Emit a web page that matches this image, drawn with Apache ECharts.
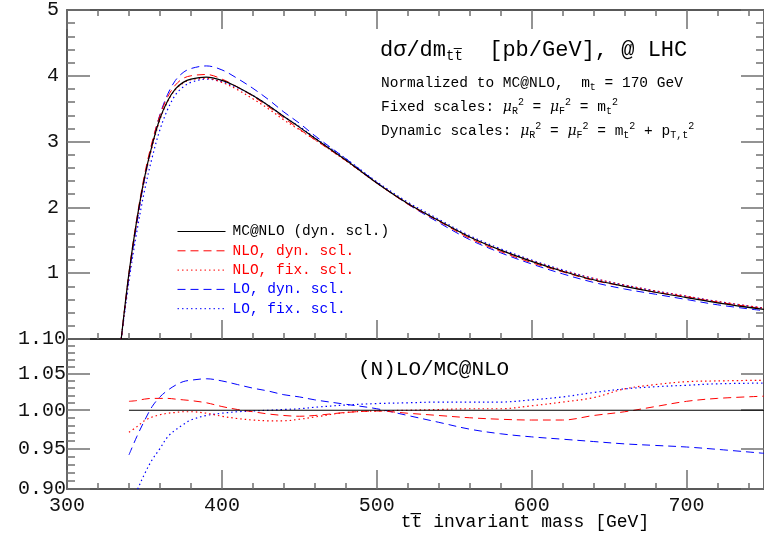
<!DOCTYPE html>
<html><head><meta charset="utf-8">
<script src="https://cdn.jsdelivr.net/npm/echarts@6/dist/echarts.min.js"></script>
<style>html,body{margin:0;padding:0;background:#fff}#c{width:764px;height:540px}</style>
</head><body><div id="c"></div>
<script>
// ---- data ----
const massTop = [335,340,345,350,355,360,365,370,375,380,390,400,410,420,430,440,450,460,480,500,520,540,560,580,600,620,640,660,680,700,720,750];
const mcnlo  = [0,1.00,1.80,2.45,2.95,3.35,3.62,3.80,3.90,3.95,3.98,3.93,3.83,3.70,3.55,3.38,3.22,3.05,2.72,2.37,2.06,1.80,1.55,1.35,1.18,1.03,0.90,0.80,0.71,0.63,0.55,0.45];
const nloDyn = [0,1.01,1.82,2.49,3.00,3.40,3.68,3.86,3.96,4.00,4.02,3.95,3.83,3.69,3.53,3.36,3.19,3.03,2.71,2.37,2.05,1.79,1.53,1.33,1.16,1.02,0.89,0.80,0.71,0.64,0.56,0.46];
const nloFix = [0,0.97,1.76,2.42,2.92,3.33,3.61,3.79,3.89,3.94,3.96,3.90,3.79,3.65,3.50,3.33,3.18,3.03,2.71,2.37,2.06,1.80,1.55,1.35,1.19,1.04,0.92,0.82,0.73,0.65,0.57,0.47];
const loDyn  = [0,0.94,1.74,2.42,2.97,3.41,3.72,3.93,4.05,4.11,4.15,4.09,3.96,3.81,3.64,3.45,3.28,3.09,2.74,2.38,2.05,1.77,1.51,1.31,1.14,0.99,0.86,0.76,0.68,0.60,0.52,0.43];
const loFix  = [0,0.88,1.62,2.25,2.76,3.18,3.49,3.71,3.83,3.90,3.95,3.91,3.82,3.70,3.55,3.38,3.23,3.06,2.74,2.39,2.08,1.82,1.57,1.37,1.20,1.05,0.92,0.82,0.73,0.65,0.57,0.47];

const massRatio = [340,345,350,355,360,365,370,375,380,390,400,410,420,430,440,450,460,480,500,520,540,560,580,600,620,640,660,680,700,720,750];
const loDynR  = [0.942,0.965,0.986,1.005,1.018,1.027,1.034,1.039,1.041,1.043,1.040,1.035,1.030,1.026,1.021,1.018,1.014,1.008,1.002,0.993,0.984,0.975,0.969,0.965,0.962,0.959,0.956,0.954,0.952,0.949,0.944];
const loFixR  = [0.875,0.897,0.918,0.936,0.950,0.965,0.974,0.981,0.987,0.993,0.996,0.998,0.999,1.000,1.001,1.002,1.004,1.007,1.009,1.010,1.011,1.011,1.011,1.014,1.018,1.024,1.029,1.032,1.034,1.036,1.037];
const nloDynR = [1.012,1.013,1.015,1.016,1.016,1.016,1.015,1.014,1.013,1.010,1.005,1.001,0.998,0.995,0.993,0.992,0.993,0.997,0.999,0.996,0.993,0.990,0.988,0.987,0.987,0.993,0.998,1.005,1.012,1.016,1.019];
const nloFixR = [0.971,0.978,0.986,0.991,0.994,0.996,0.997,0.998,0.998,0.996,0.992,0.989,0.987,0.986,0.986,0.988,0.991,0.997,0.999,1.000,1.001,1.002,1.002,1.006,1.011,1.017,1.029,1.035,1.039,1.040,1.041];
const massMc = [340,750];
const mcR    = [1,1];

const ratioMajor = [0.90,0.95,1.00,1.05,1.10];
const ratioMinor = [0.91,0.92,0.93,0.94,0.96,0.97,0.98,0.99,1.01,1.02,1.03,1.04,1.06,1.07,1.08,1.09];
const legendNames = ['MC@NLO (dyn. scl.)','NLO, dyn. scl.','NLO, fix. scl.','LO, dyn. scl.','LO, fix. scl.'];

// ---- styling ----
const MONO = "'Liberation Mono', 'Courier New', monospace";
const RED = '#ff0000', BLUE = '#0000ff', BLACK = '#000000';
const DASH = [8,5], DOT = [1.5,3];
const styles = [
  {color: BLACK, type: 'solid', width: 1.2},
  {color: RED, type: DASH, width: 1},
  {color: RED, type: DOT, width: 1.2},
  {color: BLUE, type: DASH, width: 1},
  {color: BLUE, type: DOT, width: 1.2}
];
const zip = (xs, ys) => xs.map((x,i)=>[x, ys[i]]);

const axisLine = {show: true, onZero: false, lineStyle: {color: '#222', width: 1.5}};
const tickStyle = {color: '#707070', width: 1.5};

function xAx(grid, pos, opts) {
  return Object.assign({
    type: 'value', gridIndex: grid, position: pos, min: 300, max: 750, interval: 100,
    axisLine: axisLine,
    axisTick: {show: true, inside: true, length: 19, lineStyle: tickStyle},
    minorTick: {show: true, splitNumber: 5, length: 6, lineStyle: tickStyle},
    axisLabel: {show: false},
    splitLine: {show: false}
  }, opts || {});
}

const option = {
  animation: false,
  backgroundColor: '#ffffff',
  grid: [
    {left: 67, top: 9, width: 709, height: 330},
    {left: 67, top: 339, width: 709, height: 150}
  ],
  xAxis: [
    xAx(0, 'bottom'),
    xAx(0, 'top'),
    xAx(1, 'bottom', {axisLabel: {show: true, margin: 7, fontFamily: MONO, fontSize: 20, color: '#111', showMaxLabel: false}}),
    xAx(1, 'top', {axisTick: {show: false}, minorTick: {show: false}})
  ],
  yAxis: [
    {type: 'value', gridIndex: 0, position: 'left', min: 0, max: 5, interval: 1,
     axisLine: axisLine,
     axisTick: {show: true, inside: true, length: 23, lineStyle: tickStyle},
     minorTick: {show: true, splitNumber: 5, length: 8, lineStyle: tickStyle},
     axisLabel: {show: true, showMinLabel: false, margin: 8, fontFamily: MONO, fontSize: 20, color: '#111'},
     splitLine: {show: false}},
    {type: 'value', gridIndex: 0, position: 'right', min: 0, max: 5, interval: 1,
     axisLine: axisLine,
     axisTick: {show: true, inside: true, length: 23, lineStyle: tickStyle},
     minorTick: {show: true, splitNumber: 5, length: 8, lineStyle: tickStyle},
     axisLabel: {show: false}, splitLine: {show: false}},
    {type: 'log', gridIndex: 1, position: 'left', min: 0.9, max: 1.1,
     axisLine: axisLine,
     axisTick: {show: true, inside: true, length: 23, lineStyle: tickStyle, customValues: ratioMajor},
     axisLabel: {show: true, margin: 1, fontFamily: MONO, fontSize: 20, color: '#111', customValues: ratioMajor,
                 formatter: v => Number(v).toFixed(2)},
     splitLine: {show: false}},
    {type: 'log', gridIndex: 1, position: 'left', min: 0.9, max: 1.1,
     axisLine: {show: false},
     axisTick: {show: true, inside: true, length: 8, lineStyle: tickStyle, customValues: ratioMinor},
     axisLabel: {show: false}, splitLine: {show: false}},
    {type: 'log', gridIndex: 1, position: 'right', min: 0.9, max: 1.1,
     axisLine: axisLine,
     axisTick: {show: true, inside: true, length: 23, lineStyle: tickStyle, customValues: ratioMajor},
     axisLabel: {show: false}, splitLine: {show: false}}
  ],
  legend: {
    orient: 'vertical', left: 172, top: 219,
    itemWidth: 48, itemHeight: 14, itemGap: 4.3,
    itemStyle: {opacity: 0, borderWidth: 0},
    lineStyle: {width: 1},
    textStyle: {fontFamily: MONO, fontSize: 14.5, padding: [0,0,0,2]},
    data: legendNames.map((n,i)=>({name: n, textStyle: {color: styles[i].color}}))
  },
  series: [],
  graphic: []
};

const topData = [mcnlo, nloDyn, nloFix, loDyn, loFix];
topData.forEach((d,i)=>{
  option.series.push({
    name: legendNames[i], type: 'line', xAxisIndex: 0, yAxisIndex: 0,
    data: zip(massTop, d), showSymbol: false, symbol: 'none',
    smooth: 0.35,
    lineStyle: styles[i], itemStyle: {color: styles[i].color}, z: 10 - i
  });
});
const ratioData = [[massMc, mcR],[massRatio, nloDynR],[massRatio, nloFixR],[massRatio, loDynR],[massRatio, loFixR]];
ratioData.forEach((d,i)=>{
  option.series.push({
    name: 'ratio ' + i, type: 'line', xAxisIndex: 2, yAxisIndex: 2,
    data: zip(d[0], d[1]), showSymbol: false, symbol: 'none',
    smooth: 0.35,
    lineStyle: styles[i], itemStyle: {color: styles[i].color}, z: 10 - i
  });
});

const rich = {
  n: {fontFamily: MONO, fontSize: 14.5, color: '#000'},
  mu: {fontFamily: "'DejaVu Serif', serif", fontStyle: 'italic', fontSize: 14, color: '#000'},
  sub: {fontFamily: MONO, fontSize: 10, color: '#000', padding: [9,0,0,0]},
  sup: {fontFamily: MONO, fontSize: 10, color: '#000', padding: [0,0,9,0]},
  big: {fontFamily: MONO, fontSize: 22, color: '#000'},
  bsub: {fontFamily: MONO, fontSize: 14, color: '#000', padding: [12,0,0,0]}
};
option.graphic = [
  {type: 'text', x: 380, y: 50, style: {text: '{big|dσ/dm}{bsub|tt\u0305}{big|  [pb/GeV], @ LHC}', rich: rich, verticalAlign: 'middle', align: 'left'}},
  {type: 'text', x: 381, y: 83, style: {text: '{n|Normalized to MC@NLO,  m}{sub|t}{n| = 170 GeV}', rich: rich, verticalAlign: 'middle', align: 'left'}},
  {type: 'text', x: 381, y: 107, style: {text: '{n|Fixed scales: }{mu|μ}{sub|R}{sup|2}{n| = }{mu|μ}{sub|F}{sup|2}{n| = m}{sub|t}{sup|2}', rich: rich, verticalAlign: 'middle', align: 'left'}},
  {type: 'text', x: 381, y: 131, style: {text: '{n|Dynamic scales: }{mu|μ}{sub|R}{sup|2}{n| = }{mu|μ}{sub|F}{sup|2}{n| = m}{sub|t}{sup|2}{n| + p}{sub|T,t}{sup|2}', rich: rich, verticalAlign: 'middle', align: 'left'}},
  {type: 'text', x: 358, y: 369, style: {text: '(N)LO/MC@NLO', fontFamily: MONO, fontSize: 21, fill: '#000', verticalAlign: 'middle', align: 'left'}},
  {type: 'text', x: 525, y: 522, style: {text: 'tt\u0305 invariant mass [GeV]', fontFamily: MONO, fontSize: 18, fill: '#000', verticalAlign: 'middle', align: 'center'}}
];

const chart = echarts.init(document.getElementById('c'), null, {renderer: 'canvas'});
chart.setOption(option);
</script></body></html>
